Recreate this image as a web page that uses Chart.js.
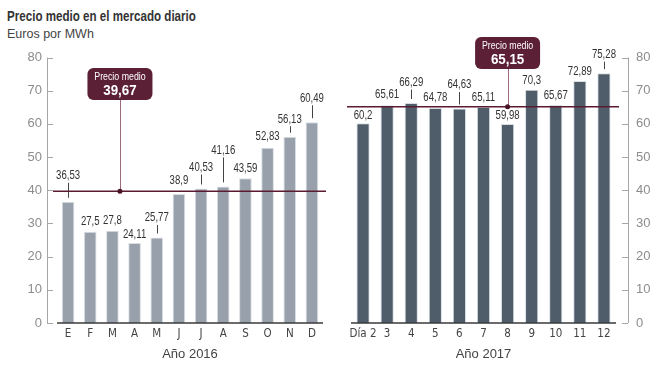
<!DOCTYPE html>
<html>
<head>
<meta charset="utf-8">
<script src="https://cdn.jsdelivr.net/npm/chart.js@4.4.1/dist/chart.umd.min.js"></script>
<style>
body { margin:0; background:#fff; width:664px; height:366px; overflow:hidden; position:relative; }
#title { position:absolute; left:7px; top:8px; line-height:16px; font:bold 14.5px "Liberation Sans", sans-serif; color:#333; transform:scaleX(0.8); transform-origin:0 0; white-space:nowrap; }
#sub { position:absolute; left:7px; top:27px; line-height:16px; font:12.5px "Liberation Sans", sans-serif; color:#444; }
canvas { position:absolute; left:0; top:0; }
</style>
</head>
<body>
<div id="title">Precio medio en el mercado diario</div>
<div id="sub">Euros por MWh</div>
<canvas id="chart2016" width="664" height="366"></canvas>
<canvas id="chart2017" width="664" height="366"></canvas>
<script>
// datos
var months2016 = ["E","F","M","A","M","J","J","A","S","O","N","D"];
var prices2016 = [36.53, 27.5, 27.8, 24.11, 25.77, 38.9, 40.53, 41.16, 43.59, 52.83, 56.13, 60.49];
var avg2016 = 39.67;

var days2017 = ["Día 2","3","4","5","6","7","8","9","10","11","12"];
var prices2017 = [60.2, 65.61, 66.29, 64.78, 64.63, 65.11, 59.98, 70.3, 65.67, 72.89, 75.28];
var avg2017 = 65.15;

var yTicks = [0, 10, 20, 30, 40, 50, 60, 70, 80];

// how far (px) each value label sits above its bar; a leader line is drawn when it is lifted
var lift2016 = [26, 10, 10, 8.5, 19.5, 13, 21, 36, 9.5, 10.5, 17.5, 24];
var lift2017 = [8, 11, 20.5, 10.5, 23.5, 9.5, 8, 9, 9.5, 9.5, 18.5];

function fmt(v) {
    return String(v).replace(".", ",");
}

// condensed text, the source uses a narrow face we don't have
function narrowText(ctx, text, x, y, sx) {
    ctx.save();
    ctx.translate(x, y);
    ctx.scale(sx, 1);
    ctx.fillText(text, 0, 0);
    ctx.restore();
}

function overlay(opts) {
    return {
        id: "overlay" + opts.name,
        afterDatasetsDraw: function (chart) {
            var ctx = chart.ctx;
            var xs = chart.scales.x, ys = chart.scales.y, area = chart.chartArea;
            ctx.save();

            // eje vertical con marcas hacia dentro
            var ax = opts.axisSide == "left" ? area.left - 10 : area.right + 12;
            var dir = opts.axisSide == "left" ? 1 : -1;
            ctx.strokeStyle = "#a6a6a6";
            ctx.lineWidth = 1;
            ctx.beginPath();
            ctx.moveTo(ax + 0.5, ys.getPixelForValue(yTicks[yTicks.length - 1]));
            ctx.lineTo(ax + 0.5, ys.getPixelForValue(0));
            yTicks.forEach(function (t) {
                var py = Math.round(ys.getPixelForValue(t)) + 0.5;
                ctx.moveTo(ax, py);
                ctx.lineTo(ax + dir * 6, py);
            });
            ctx.stroke();

            // línea base
            ctx.strokeStyle = "#3a3a3a";
            ctx.lineWidth = 1.5;
            ctx.beginPath();
            ctx.moveTo(area.left, ys.getPixelForValue(0));
            ctx.lineTo(area.right, ys.getPixelForValue(0));
            ctx.stroke();

            // etiquetas de valor
            ctx.font = '12px "Liberation Sans", sans-serif';
            ctx.textAlign = "center";
            ctx.textBaseline = "middle";
            opts.values.forEach(function (v, i) {
                var px = xs.getPixelForValue(i);
                var top = ys.getPixelForValue(v);
                var ly = top - opts.lifts[i];
                ctx.fillStyle = "#333";
                narrowText(ctx, fmt(v), px, ly, 0.8);
                if (opts.lifts[i] > 15) {
                    ctx.strokeStyle = "#444";
                    ctx.lineWidth = 1;
                    ctx.beginPath();
                    ctx.moveTo(Math.round(px) + 0.5, ly + 7);
                    ctx.lineTo(Math.round(px) + 0.5, top - 4);
                    ctx.stroke();
                }
            });

            // precio medio
            var avgY = ys.getPixelForValue(opts.avg);
            ctx.strokeStyle = "#5a1a30";
            ctx.lineWidth = 1.5;
            ctx.beginPath();
            ctx.moveTo(area.left - 4, avgY);
            ctx.lineTo(area.right + 3, avgY);
            ctx.stroke();

            var dx = xs.getPixelForValue(opts.anchor);
            var boxW = 65, boxH = 32;
            ctx.strokeStyle = "#9a6a7c";
            ctx.lineWidth = 1;
            ctx.beginPath();
            ctx.moveTo(Math.round(dx) + 0.5, opts.boxTop + boxH);
            ctx.lineTo(Math.round(dx) + 0.5, avgY);
            ctx.stroke();

            ctx.fillStyle = "#4a1226";
            ctx.beginPath();
            ctx.arc(dx, avgY, 2.5, 0, Math.PI * 2);
            ctx.fill();

            ctx.fillStyle = "#5b1f36";
            ctx.beginPath();
            ctx.roundRect(dx - boxW / 2, opts.boxTop, boxW, boxH, 6);
            ctx.fill();
            ctx.fillStyle = "#fff";
            ctx.font = '11px "Liberation Sans", sans-serif';
            narrowText(ctx, "Precio medio", dx, opts.boxTop + 9, 0.8);
            ctx.font = 'bold 14.5px "Liberation Sans", sans-serif';
            narrowText(ctx, fmt(opts.avg), dx, opts.boxTop + 23, 0.92);

            ctx.restore();
        }
    };
}

function buildChart(id, labels, values, color, catPct, side, padding, yWidth, yPad, title, plugin) {
    return new Chart(document.getElementById(id), {
        type: "bar",
        data: {
            labels: labels,
            datasets: [{
                data: values,
                backgroundColor: color,
                borderColor: "#d9dee4",
                borderWidth: 1,
                barPercentage: 1,
                categoryPercentage: catPct
            }]
        },
        options: {
            responsive: false,
            animation: false,
            events: [],
            layout: { padding: padding },
            plugins: { legend: { display: false }, tooltip: { enabled: false } },
            scales: {
                x: {
                    offset: true,
                    grid: { display: false, drawTicks: false },
                    border: { display: false },
                    ticks: {
                        color: "#444",
                        padding: 4,
                        font: { family: "'DejaVu Sans Condensed', 'Liberation Sans', sans-serif", size: 11.5 },
                        maxRotation: 0,
                        autoSkip: false
                    },
                    title: {
                        display: true,
                        text: title,
                        color: "#444",
                        font: { family: "'Liberation Sans', sans-serif", size: 13 },
                        padding: { top: 0, bottom: 4 }
                    },
                    afterFit: function (s) { s.height = 43; }
                },
                y: {
                    position: side,
                    min: 0,
                    max: 80,
                    grid: { display: false, drawTicks: false },
                    border: { display: false },
                    ticks: {
                        color: "#8c8c8c",
                        padding: yPad,
                        font: { family: "'Liberation Sans', sans-serif", size: 13 }
                    },
                    afterBuildTicks: function (s) {
                        s.ticks = yTicks.map(function (v) { return { value: v }; });
                    },
                    afterFit: function (s) { s.width = yWidth; }
                }
            }
        },
        plugins: [plugin]
    });
}

buildChart("chart2016", months2016, prices2016, "#97a0ab", 0.57, "left",
    { left: 0, right: 341, top: 57.5, bottom: 0 }, 57, 15, "Año 2016",
    overlay({ name: "2016", values: prices2016, lifts: lift2016, avg: avg2016, anchor: 2.34, boxTop: 68, axisSide: "left" }));

buildChart("chart2017", days2017, prices2017, "#4f5d6b", 0.55, "right",
    { left: 351, right: 0, top: 57.5, bottom: 0 }, 48, 20, "Año 2017",
    overlay({ name: "2017", values: prices2017, lifts: lift2017, avg: avg2017, anchor: 6, boxTop: 37, axisSide: "right" }));
</script>
</body>
</html>
